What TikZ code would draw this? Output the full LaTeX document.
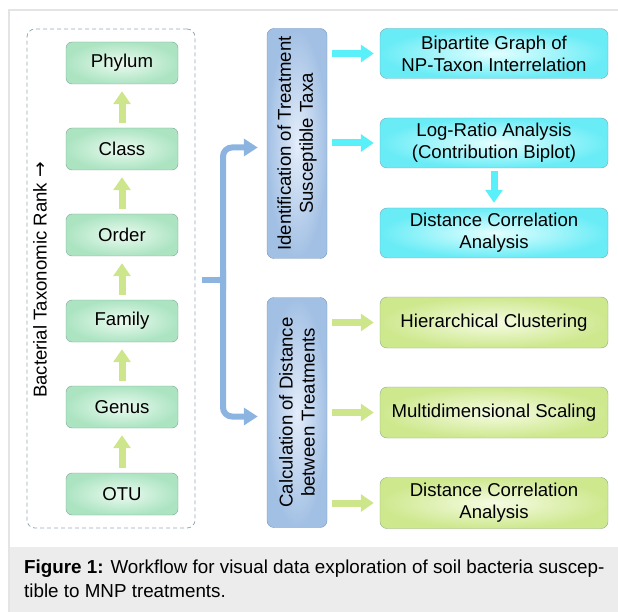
\documentclass[tikz,border=0pt]{standalone}
\usepackage{fontspec}
\setmainfont{Liberation Sans}
\newfontfamily\arrowfont{DejaVu Sans}
\usetikzlibrary{arrows.meta}
\definecolor{rankedge}{RGB}{125,165,150}
\definecolor{rankin}{RGB}{236,251,241}
\definecolor{rankout}{RGB}{172,228,194}
\definecolor{cyanedge}{RGB}{110,170,185}
\definecolor{cyanin}{RGB}{228,255,255}
\definecolor{cyanout}{RGB}{105,236,246}
\definecolor{limeedge}{RGB}{140,170,130}
\definecolor{limein}{RGB}{246,252,228}
\definecolor{limeout}{RGB}{206,232,142}
\definecolor{blueedge}{RGB}{120,150,190}
\definecolor{bluein}{RGB}{228,237,250}
\definecolor{blueout}{RGB}{162,192,228}
\definecolor{bracecol}{RGB}{140,180,225}
\definecolor{cyanarr}{RGB}{90,240,250}
\definecolor{limearr}{RGB}{205,230,140}
\definecolor{framecol}{RGB}{228,228,228}
\definecolor{capbg}{RGB}{236,236,236}
\definecolor{dashcol}{RGB}{150,170,180}
\begin{document}
\begin{tikzpicture}[
  x=1pt, y=-1pt,
  txt/.style={font=\fontsize{18.6}{22}\selectfont},
  rank/.style={draw=rankedge, rounded corners=6pt, inner color=rankin, outer color=rankout,
               minimum width=112pt, minimum height=42pt, txt},
  task/.style={draw=blueedge, rounded corners=7pt, inner color=bluein, outer color=blueout,
               rotate=90, minimum width=230pt, minimum height=60pt, align=center, txt},
  cyanbox/.style={draw=cyanedge, rounded corners=7pt, inner color=cyanin, outer color=cyanout,
                  minimum width=228pt, minimum height=50pt, align=center, txt},
  limebox/.style={draw=limeedge, rounded corners=7pt, inner color=limein, outer color=limeout,
                  minimum width=228pt, minimum height=51pt, align=center, txt},
  fat/.style={line width=7pt, -{Triangle[length=13pt, width=17pt]}},
  brace/.style={draw=bracecol, line width=6pt, rounded corners=9pt},
]
\useasboundingbox (0,0) rectangle (618,612);
\fill[capbg] (9,547) rectangle (618,612);
\draw[framecol, line width=1.5pt] (618,10) -- (9,10) -- (9,612);

% taxonomic ranks
\node[draw=dashcol, dash pattern=on 4pt off 3pt, line width=0.8pt, rounded corners=8pt,
      minimum width=168pt, minimum height=499pt] (ranks) at (111,278.5) {};
\node[rotate=90, txt] (ranklab) at (40,280) {Bacterial Taxonomic Rank {\arrowfont →}};
\node[rank] (phylum) at (122,63)  {Phylum};
\node[rank] (class)  at (122,149) {Class};
\node[rank] (order)  at (122,235) {Order};
\node[rank] (family) at (122,321) {Family};
\node[rank] (genus)  at (122,407) {Genus};
\node[rank] (otu)    at (122,494) {OTU};
\foreach \a/\b in {otu/genus, genus/family, family/order, order/class, class/phylum}
  \draw[fat, limearr, shorten <=5pt, shorten >=7pt] (\a) -- (\b);

% two branches
\node[task] (ident) at (297,143.5) {Identification of Treatment\\Susceptible Taxa};
\node[task] (dist)  at (297,412.5) {Calculation of Distance\\between Treatments};

\node[cyanbox] (bip)  at (494,53.5) {Bipartite Graph of\\NP-Taxon Interrelation};
\node[cyanbox] (logr) at (494,143)  {Log-Ratio Analysis\\(Contribution Biplot)};
\node[cyanbox] (dca)  at (494,233)  {Distance Correlation\\Analysis};
\node[limebox] (hclust) at (494,322.5) {Hierarchical Clustering};
\node[limebox] (mds)    at (494,412.5) {Multidimensional Scaling};
\node[limebox] (dcb)    at (494,503)   {Distance Correlation\\Analysis};

\draw[fat, cyanarr, shorten <=5pt, shorten >=6pt] (bip.west -| ident.south) -- (bip.west);
\draw[fat, cyanarr, shorten <=5pt, shorten >=6pt] (logr.west -| ident.south) -- (logr.west);
\draw[fat, cyanarr, shorten <=3pt, shorten >=5pt] (logr) -- (dca);
\foreach \n in {hclust, mds, dcb}
  \draw[fat, limearr, shorten <=5pt, shorten >=6pt] (\n.west -| dist.south) -- (\n.west);

% curly bracket
\coordinate (fork) at (218,280);
\draw[brace, shorten <=7pt] (ranks.east |- fork) -- (fork);
\draw[brace, -{Triangle[length=14pt, width=17pt]}, shorten >=9pt]
  (fork) .. controls (223,280) .. (223,272) |- ([yshift=-4pt]ident.north);
\draw[brace, -{Triangle[length=14pt, width=17pt]}, shorten >=9pt]
  (fork) .. controls (223,280) .. (223,288) |- ([yshift=-4pt]dist.north);

\node[anchor=north west, inner sep=0pt, align=left, font=\fontsize{18.8}{24}\selectfont] (cap)
  at (24,560) {\textbf{Figure 1:} Workflow for visual data exploration of soil bacteria suscep-\\tible to MNP treatments.};
\end{tikzpicture}
\end{document}
